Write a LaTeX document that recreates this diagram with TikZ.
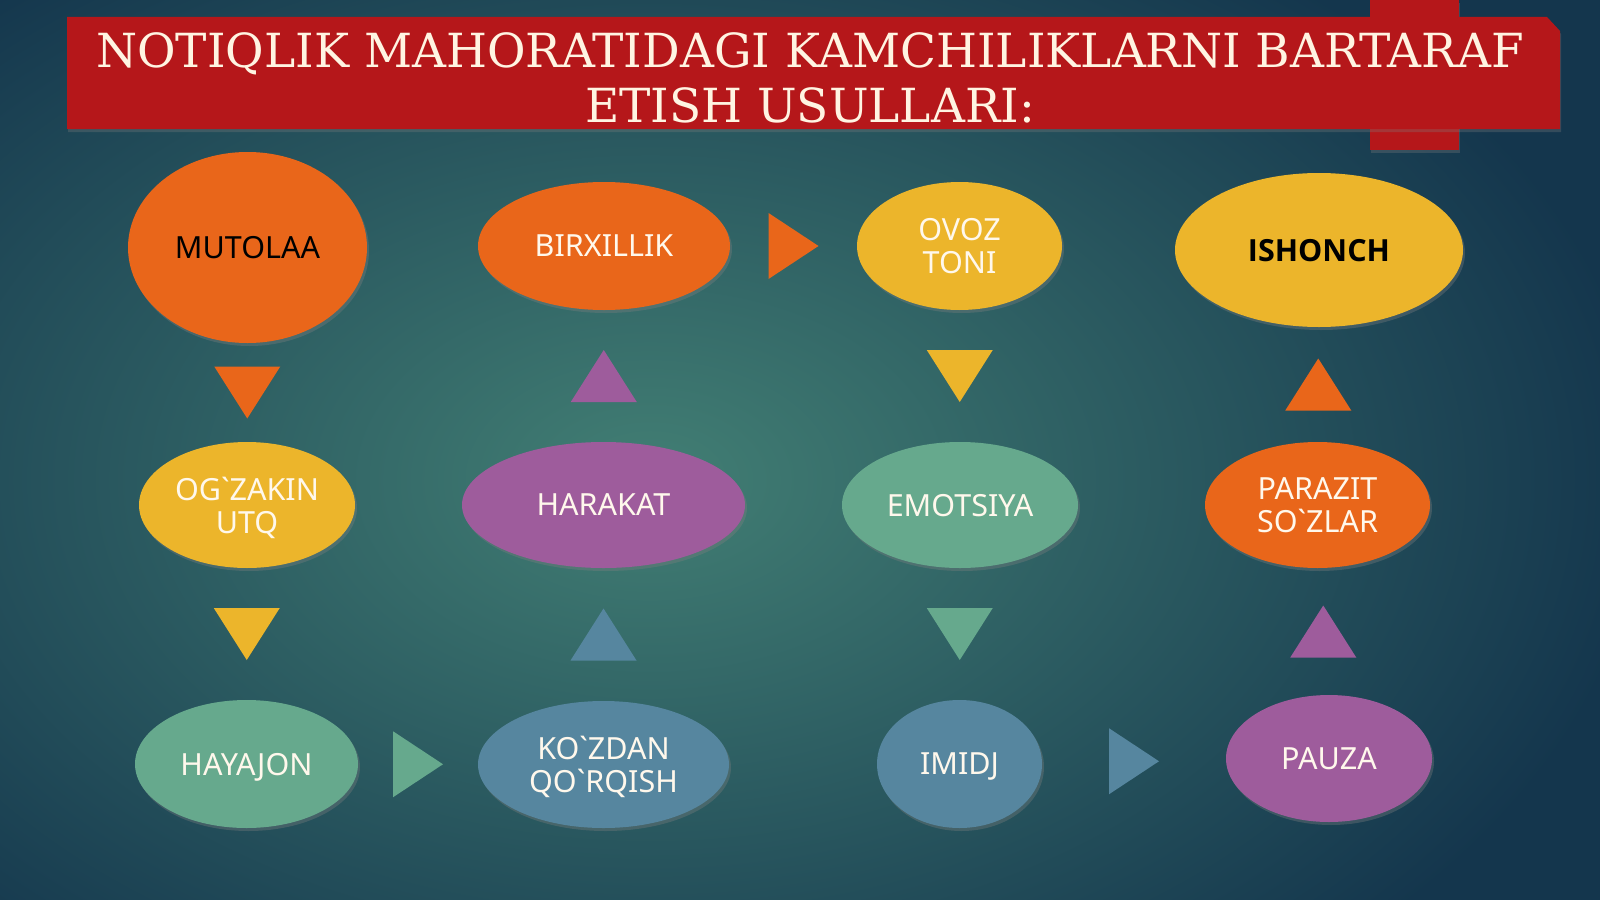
\documentclass[tikz,border=0pt]{standalone}
\usepackage{fontspec}
\setmainfont{Noto Sans}
\newfontfamily\titlefont{DejaVu Serif}
\newfontfamily\boldfont{Open Sans}
\usetikzlibrary{shapes.geometric,shadows,calc}
\definecolor{bgIn}{HTML}{427F74}
\definecolor{bgOut}{HTML}{14364D}
\definecolor{cRed}{HTML}{B5171A}
\definecolor{cOrange}{HTML}{E9661A}
\definecolor{cYellow}{HTML}{ECB52B}
\definecolor{cPurple}{HTML}{9E5C9C}
\definecolor{cTeal}{HTML}{66A98D}
\definecolor{cBlue}{HTML}{56869F}
\definecolor{cText}{HTML}{FFF8EC}
\definecolor{cTitle}{HTML}{FFF4E2}
\newcommand\gr{\textasciigrave}
\begin{document}
\begin{tikzpicture}[x=1pt,y=-1pt,
  ell/.style={ellipse, inner sep=0pt, text depth=0pt, align=center,
    font=\fontsize{30.5}{33}\selectfont, text=cText,
    drop shadow={shadow xshift=2pt, shadow yshift=-3pt, opacity=0.35}},
  tridown/.pic={\fill[pic actions] (-33,-26) -- (33,-26) -- (0,26) -- cycle;},
  triup/.pic={\fill[pic actions] (-33,26) -- (33,26) -- (0,-26) -- cycle;},
  triright/.pic={\fill[pic actions] (-25,-33) -- (-25,33) -- (25,0) -- cycle;},
  titletext/.style={align=center, inner sep=0pt, text=cTitle,
    font=\titlefont\fontsize{47}{55}\selectfont}
]
\useasboundingbox (0,0) rectangle (1600,899);
% background
\begin{scope}
\clip (0,0) rectangle (1600,899);
\shade[inner color=bgIn, outer color=bgOut] (-350,-170) rectangle (1650,1130);
\end{scope}
% banner
\fill[cRed, drop shadow={shadow xshift=1pt, shadow yshift=-3pt, opacity=0.3}] (1370,0) rectangle (1459,150);
\fill[cRed, drop shadow={shadow xshift=1pt, shadow yshift=-3pt, opacity=0.3}]
  (67,17) -- (1547,17) -- (1560,31) -- (1560,129) -- (67,129) -- cycle;
\node[titletext] (title) at (810,78) {NOTIQLIK MAHORATIDAGI KAMCHILIKLARNI BARTARAF\\ETISH USULLARI:};
% ellipses
\node[ell, fill=cOrange, minimum width=239pt, minimum height=191pt, text=black] (mutolaa) at (247.5,247.5) {MUTOLAA};
\node[ell, fill=cOrange, minimum width=252pt, minimum height=128pt] (birx) at (604,246) {BIRXILLIK};
\node[ell, fill=cYellow, minimum width=205pt, minimum height=128pt] (ovoz) at (959.5,246) {OVOZ\\TONI};
\node[ell, fill=cYellow, minimum width=288pt, minimum height=154pt, text=black, font=\boldfont\bfseries\fontsize{30.5}{33}\selectfont] (ishonch) at (1319,250) {ISHONCH};
\node[ell, fill=cYellow, minimum width=216pt, minimum height=126pt] (ogz) at (247,505) {OG\gr ZAKIN\\UTQ};
\node[ell, fill=cPurple, minimum width=283pt, minimum height=126pt] (harakat) at (603.5,505) {HARAKAT};
\node[ell, fill=cTeal, minimum width=236pt, minimum height=126pt] (emots) at (960,505) {EMOTSIYA};
\node[ell, fill=cOrange, minimum width=225pt, minimum height=126pt] (parazit) at (1317.5,505) {PARAZIT\\SO\gr ZLAR};
\node[ell, fill=cTeal, minimum width=223pt, minimum height=128pt] (hayajon) at (246.5,764) {HAYAJON};
\node[ell, fill=cBlue, minimum width=251pt, minimum height=127pt] (kozdan) at (603.5,764.5) {KO\gr ZDAN\\QO\gr RQISH};
\node[ell, fill=cBlue, minimum width=165pt, minimum height=128pt] (imidj) at (959.5,764) {IMIDJ};
\node[ell, fill=cPurple, minimum width=206pt, minimum height=127pt] (pauza) at (1329,758.5) {PAUZA};
% arrows (triangles)
\pic[fill=cOrange] at ($(mutolaa.south)!0.5!(ogz.north)$) {tridown};
\pic[fill=cYellow] at ($(ogz.south)!0.5!(hayajon.north)$) {tridown};
\pic[fill=cTeal] at ($(hayajon.east)!0.5!(kozdan.west)$) {triright};
\pic[fill=cBlue] at ($(kozdan.north)!0.5!(harakat.south)$) {triup};
\pic[fill=cPurple] at ($(harakat.north)!0.5!(birx.south)$) {triup};
\pic[fill=cOrange] at ($(birx.east)!0.5!(ovoz.west)$) {triright};
\pic[fill=cYellow] at ($(ovoz.south)!0.5!(emots.north)$) {tridown};
\pic[fill=cTeal] at ($(emots.south)!0.5!(imidj.north)$) {tridown};
\pic[fill=cBlue] at ($(imidj.east)!0.5!(pauza.west)$) {triright};
\pic[fill=cPurple] at ($(pauza.north)!0.5!(parazit.south)$) {triup};
\pic[fill=cOrange] at ($(parazit.north)!0.5!(ishonch.south)$) {triup};
\end{tikzpicture}
\end{document}
